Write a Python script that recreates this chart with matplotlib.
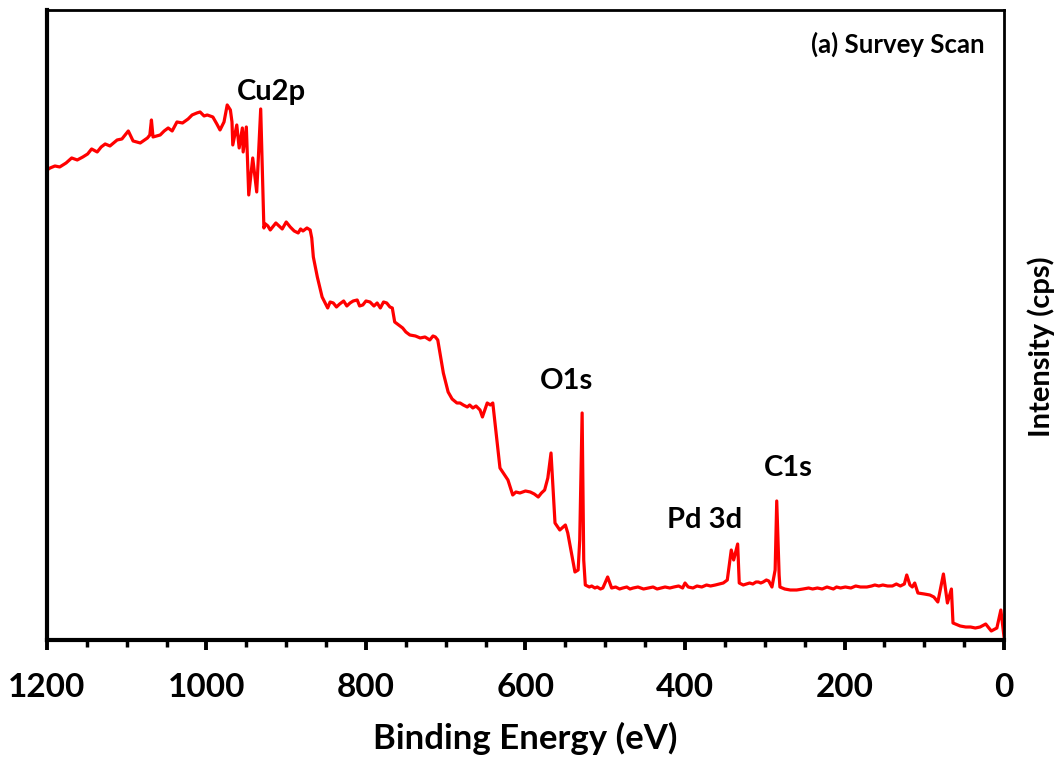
import matplotlib
matplotlib.use("Agg")
import matplotlib.pyplot as plt
from matplotlib.ticker import MultipleLocator
import numpy as np

# binding energy (eV) and intensity (cps)
# (rows of ten, energy and intensity rows line up)
energy = [
	1200, 1196, 1190, 1184, 1176, 1169, 1162, 1155, 1149, 1144,
	1137, 1132, 1127, 1121, 1112, 1106, 1098, 1095, 1092, 1083,
	1074, 1071, 1069, 1067, 1058, 1053, 1048, 1043, 1037, 1030,
	1023, 1018, 1012, 1008, 1003, 999, 992, 987, 983, 978,
	974, 970, 968, 967, 962, 959, 955, 954, 950, 947,
	942, 937, 932, 928, 926, 923, 920, 917, 913, 909,
	905, 900, 897, 895, 890, 885, 882, 879, 874, 870,
	868, 866, 861, 855, 848, 845, 841, 837, 833, 828,
	824, 820, 816, 811, 808, 804, 800, 795, 790, 786,
	782, 778, 774, 770, 767, 764, 759, 754, 750, 745,
	738, 732, 726, 720, 716, 713, 710, 703, 697, 692,
	686, 682, 678, 673, 670, 666, 662, 657, 654, 648,
	644, 641, 632, 627, 622, 616, 612, 607, 600, 594,
	589, 584, 580, 576, 572, 568, 563, 557, 550, 547,
	538, 534, 532, 529, 527, 525, 520, 517, 513, 510,
	506, 503, 497, 492, 487, 482, 478, 473, 469, 465,
	459, 452, 446, 440, 435, 430, 425, 419, 414, 408,
	403, 400, 396, 390, 385, 379, 373, 368, 362, 357,
	352, 347, 342, 339, 334, 332, 327, 323, 319, 315,
	311, 308, 305, 302, 298, 295, 291, 287, 285, 282,
	281, 278, 275, 268, 260, 252, 245, 240, 234, 228,
	222, 218, 214, 210, 205, 199, 192, 186, 180, 172,
	166, 162, 157, 152, 146, 140, 135, 130, 125, 122,
	118, 115, 112, 108, 100, 93, 88, 83, 76, 71,
	66, 64, 55, 48, 42, 36, 30, 23, 16, 9,
	4, 0]
intensity = [
	47000, 47200, 47400, 47300, 47700, 48200, 48000, 48300, 48600, 49100,
	48800, 49300, 49600, 49400, 50000, 50100, 50900, 50400, 49900, 49700,
	50200, 50500, 52000, 50300, 50500, 50900, 51200, 50900, 51800, 51700,
	52100, 52500, 52700, 52800, 52400, 52500, 52300, 51600, 51000, 51800,
	53500, 53000, 51800, 49500, 51500, 49200, 51200, 48800, 51300, 44500,
	48200, 44800, 53100, 41200, 41600, 41400, 41000, 41300, 41700, 41400,
	41100, 41800, 41500, 41300, 40900, 40700, 41100, 40900, 41200, 41000,
	40200, 38300, 36300, 34300, 33200, 33800, 33700, 33300, 33600, 33900,
	33400, 33700, 33900, 34000, 33400, 33500, 33900, 33800, 33400, 33700,
	33200, 33800, 33700, 33300, 33200, 31800, 31500, 31200, 30800, 30500,
	30400, 30200, 30300, 30000, 30400, 30300, 30000, 26700, 24800, 24100,
	23700, 23700, 23500, 23300, 23500, 23200, 23400, 23000, 22300, 23700,
	23500, 23700, 17200, 16600, 16000, 14500, 14800, 14700, 14900, 14800,
	14600, 14300, 14700, 15000, 16200, 18700, 11700, 11000, 11500, 10700,
	6800, 7000, 10000, 22700, 8000, 5500, 5300, 5400, 5200, 5300,
	5100, 5200, 6300, 5200, 5300, 5100, 5200, 5300, 5100, 5200,
	5300, 5100, 5200, 5300, 5100, 5200, 5300, 5200, 5300, 5400,
	5200, 5700, 5300, 5200, 5400, 5300, 5500, 5400, 5500, 5600,
	5700, 6000, 9000, 8000, 9600, 5700, 5500, 5600, 5700, 5600,
	5800, 5800, 5700, 5800, 6000, 5900, 5300, 7000, 13900, 6500,
	5300, 5200, 5100, 5000, 5000, 5100, 5200, 5100, 5200, 5100,
	5300, 5200, 5100, 5300, 5200, 5300, 5200, 5400, 5300, 5300,
	5400, 5500, 5400, 5500, 5400, 5400, 5600, 5400, 5600, 6500,
	5500, 5300, 5700, 4700, 4600, 4500, 4300, 3800, 6600, 3700,
	5100, 1700, 1400, 1300, 1300, 1200, 1300, 1600, 900, 1200,
	3000, 300]

# peak labels: text, energy, intensity
peak_labels = ["Cu2p", "O1s", "Pd 3d", "C1s"]
label_energy = [918, 549, 375, 271]
label_intensity = [54800, 25900, 12000, 17200]

plt.rcParams["font.family"] = ["Lato", "DejaVu Sans"]
plt.rcParams["font.weight"] = "bold"

fig = plt.figure(figsize=(10.55, 7.61), dpi=100)
ax = fig.add_axes([0.0445, 0.159, 0.9072, 0.8279])

ax.plot(energy, intensity, color="#ff0000", linewidth=2.3)

ax.set_xlim(1200, 0)
ax.set_ylim(0, 63000)

ax.xaxis.set_major_locator(MultipleLocator(200))
ax.xaxis.set_minor_locator(MultipleLocator(50))
ax.tick_params(axis="x", which="major", direction="out", length=7, width=2.8,
	labelsize=24, pad=17)
ax.tick_params(axis="x", which="minor", direction="out", length=5, width=2.5)
ax.set_yticks([])

for side in ["left", "bottom"]:
	ax.spines[side].set_linewidth(3)
for side in ["top", "right"]:
	ax.spines[side].set_linewidth(2)

ax.set_xlabel("Binding Energy (eV)", fontsize=25, fontweight="bold", labelpad=14)
ax.yaxis.set_label_position("right")
ax.set_ylabel("Intensity (cps)", fontsize=21, fontweight="bold",
	rotation=90, ha="center", va="center")
ax.yaxis.set_label_coords(1.0385, 0.465)

for txt, e, i in zip(peak_labels, label_energy, label_intensity):
	ax.text(e, i, txt, fontsize=21, fontweight="bold", ha="center", va="center")

ax.text(0.98, 0.945, "(a) Survey Scan", transform=ax.transAxes, fontsize=18.5,
	fontweight="bold", ha="right", va="center")

plt.savefig("out.png", dpi=100)
